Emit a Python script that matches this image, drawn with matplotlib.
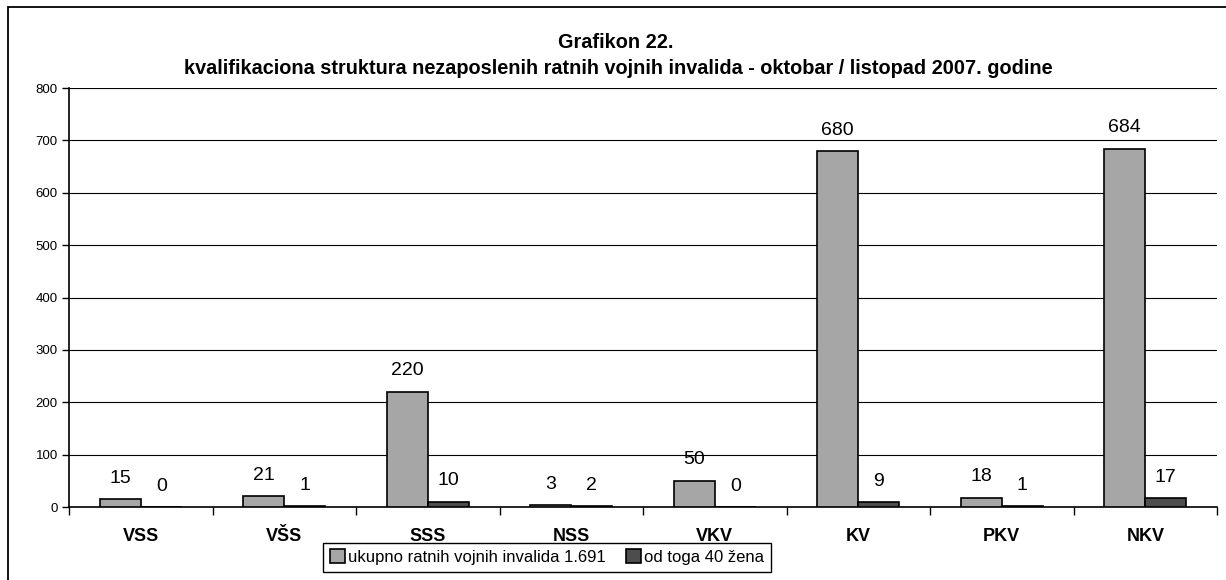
import matplotlib.pyplot as plt
import numpy as np
from matplotlib.patches import Rectangle

plt.rcParams['font.family'] = ['Liberation Sans', 'DejaVu Sans']

# data
categories = ['VSS', 'VŠS', 'SSS', 'NSS', 'VKV', 'KV', 'PKV', 'NKV']
ukupno = [15, 21, 220, 3, 50, 680, 18, 684]
zene = [0, 1, 10, 2, 0, 9, 1, 17]
series_names = ['ukupno ratnih vojnih invalida 1.691', 'od toga 40 žena']
yticks = [0, 100, 200, 300, 400, 500, 600, 700, 800]

W, H = 1226, 580
fig = plt.figure(figsize=(W / 100, H / 100), dpi=100)
ax = fig.add_axes([69 / W, 1 - 507 / H, (1217 - 69) / W, (507 - 88) / H])

x = np.arange(len(categories))
bw = 0.286
b1 = ax.bar(x - bw / 2, ukupno, bw, color='#a6a6a6', edgecolor='black', linewidth=1.2,
            label=series_names[0], zorder=3)
b2 = ax.bar(x + bw / 2, zene, bw, color='#4d4d4d', edgecolor='black', linewidth=1.2,
            label=series_names[1], zorder=3)

for bars, vals in [(b1, ukupno), (b2, zene)]:
    for r, v in zip(bars, vals):
        ax.annotate(str(v), (r.get_x() + r.get_width() / 2, v), xytext=(0, 15),
                    textcoords='offset points', ha='center', va='center', fontsize=14)

ax.set_xlim(-0.5, len(categories) - 0.5)
ax.set_ylim(0, 800)
ax.set_yticks(yticks)
ax.tick_params(axis='y', labelsize=9.5, length=5, width=1, direction='out', pad=3)
ax.yaxis.grid(True, color='black', linewidth=0.8, zorder=0)

# category labels centered, ticks between groups
ax.set_xticks(np.arange(-0.5, len(categories)), minor=False)
ax.set_xticklabels([])
ax.set_xticks(x, minor=True)
ax.set_xticklabels(categories, minor=True, fontsize=13, fontweight='bold')
ax.tick_params(axis='x', which='major', length=6, width=1, direction='out')
ax.tick_params(axis='x', which='minor', length=0, pad=15)

for s in ['top', 'right']:
    ax.spines[s].set_visible(False)
for s in ['left', 'bottom']:
    ax.spines[s].set_linewidth(1.2)
    ax.spines[s].set_color('black')

fig.text(616 / W, 1 - 42 / H, 'Grafikon 22.', ha='center', va='center',
         fontsize=14.3, fontweight='bold')
fig.text(618 / W, 1 - 69 / H,
         'kvalifikaciona struktura nezaposlenih ratnih vojnih invalida - oktobar / listopad 2007. godine',
         ha='center', va='center', fontsize=14.3, fontweight='bold')

fig.legend(handles=[b1, b2], loc='center', bbox_to_anchor=(547 / W, 1 - 557 / H), ncol=2,
           fontsize=12, frameon=True, fancybox=False, edgecolor='black', framealpha=1,
           handlelength=0.9, handleheight=0.9, handletextpad=0.2, columnspacing=1.2,
           borderpad=0.4)

# outer chart frame (cut off at right and bottom)
fig.patches.append(Rectangle((8 / W, -0.2), 1.2, 1.2 - 7 / H, transform=fig.transFigure,
                             fill=False, edgecolor='black', linewidth=1.3))

fig.savefig('out.png', dpi=100)
